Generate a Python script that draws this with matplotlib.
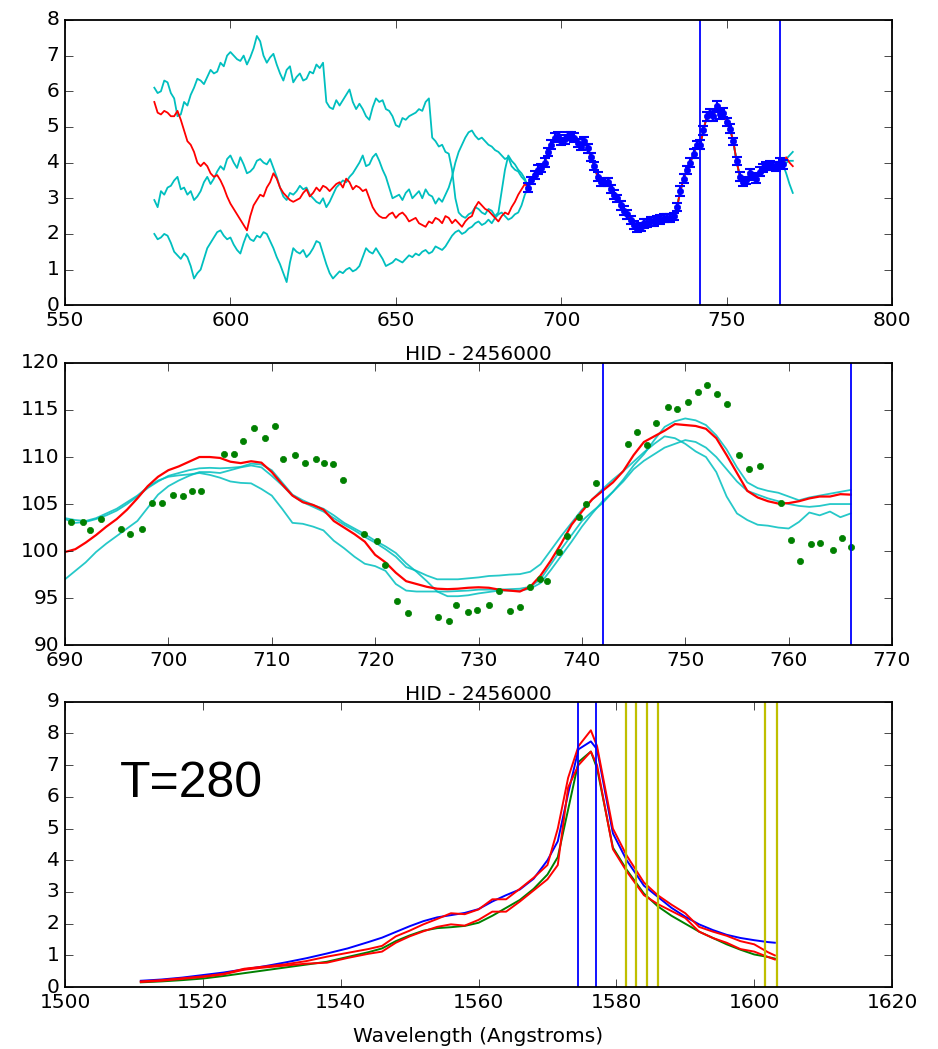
import matplotlib
matplotlib.use('Agg')
import matplotlib.pyplot as plt

# ---- top panel: light curve with model draws (daily values, HJD 577..689) ----
early_x = list(range(577, 690))
cyanA_early = [6.1, 5.95, 6.0, 6.3, 6.25, 5.95, 5.8, 5.3, 5.35, 5.7,
               5.6, 5.9, 6.1, 6.35, 6.3, 6.2, 6.4, 6.6, 6.5, 6.55,
               6.8, 6.7, 7.0, 7.1, 7.0, 6.9, 6.85, 7.0, 6.75, 6.95,
               7.2, 7.55, 7.4, 7.0, 6.8, 6.95, 7.05, 6.75, 6.5, 6.3,
               6.6, 6.7, 6.25, 6.4, 6.5, 6.3, 6.35, 6.55, 6.5, 6.75,
               6.65, 6.8, 5.7, 5.55, 5.5, 5.75, 5.6, 5.75, 5.9, 6.05,
               5.7, 5.5, 5.65, 5.5, 5.3, 5.2, 5.55, 5.8, 5.7, 5.75,
               5.5, 5.45, 5.3, 5.05, 5.0, 5.25, 5.2, 5.3, 5.35, 5.4,
               5.5, 5.45, 5.7, 5.8, 4.7, 4.6, 4.45, 4.5, 4.3, 4.25,
               3.8, 3.0, 2.6, 2.5, 2.45, 2.55, 2.6, 2.75, 2.7, 2.6,
               2.55, 2.7, 2.65, 2.5, 2.6, 3.2, 3.8, 4.2, 4.05, 3.95,
               3.8, 3.7, 3.55]
cyanB_early = [2.95, 2.75, 3.2, 3.1, 3.3, 3.35, 3.5, 3.6, 3.25, 3.3,
               3.1, 3.2, 2.95, 3.05, 3.2, 3.45, 3.6, 3.4, 3.55, 3.75,
               3.9, 3.8, 4.1, 4.2, 4.0, 3.85, 4.15, 3.95, 3.7, 3.75,
               3.85, 4.05, 4.1, 4.0, 3.95, 4.1, 3.85, 3.6, 3.3, 3.05,
               2.95, 3.15, 3.1, 3.2, 3.35, 3.25, 3.3, 3.1, 3.0, 2.9,
               2.85, 3.0, 2.75, 2.9, 3.1, 3.3, 3.4, 3.5, 3.45, 3.6,
               3.7, 3.85, 4.0, 4.2, 3.9, 3.95, 4.15, 4.25, 4.05, 3.8,
               3.6, 3.3, 3.0, 3.05, 3.1, 2.95, 3.15, 3.25, 3.0, 3.1,
               3.2, 3.0, 3.25, 3.1, 3.05, 2.85, 3.0, 2.9, 3.1, 3.3,
               3.6, 4.0, 4.3, 4.5, 4.7, 4.85, 4.9, 4.75, 4.65, 4.7,
               4.6, 4.5, 4.45, 4.35, 4.3, 4.2, 4.1, 4.15, 3.9, 3.8,
               3.75, 3.6, 3.5]
cyanC_early = [2.0, 1.85, 1.9, 2.0, 1.95, 1.75, 1.5, 1.4, 1.3, 1.45,
               1.35, 1.1, 0.75, 0.9, 1.0, 1.3, 1.6, 1.75, 1.9, 2.05,
               2.1, 1.95, 1.85, 1.9, 1.7, 1.55, 1.45, 1.75, 2.0, 1.85,
               1.8, 1.95, 1.9, 2.05, 2.0, 1.8, 1.6, 1.35, 1.15, 0.9,
               0.65, 1.2, 1.6, 1.5, 1.45, 1.55, 1.35, 1.45, 1.6, 1.8,
               1.75, 1.45, 1.15, 0.9, 0.75, 0.85, 0.95, 0.9, 1.0, 1.05,
               0.95, 1.0, 1.1, 1.35, 1.6, 1.5, 1.45, 1.6, 1.45, 1.3,
               1.1, 1.15, 1.2, 1.3, 1.25, 1.2, 1.3, 1.4, 1.35, 1.45,
               1.4, 1.5, 1.55, 1.45, 1.5, 1.65, 1.6, 1.55, 1.65, 1.8,
               1.95, 2.05, 2.1, 2.0, 2.05, 2.15, 2.2, 2.3, 2.35, 2.25,
               2.3, 2.4, 2.3, 2.45, 2.55, 2.6, 2.5, 2.4, 2.45, 2.55,
               2.6, 2.8, 3.1]
red_early = [5.7, 5.4, 5.35, 5.45, 5.4, 5.3, 5.3, 5.45, 5.2, 4.9,
             4.6, 4.5, 4.3, 4.0, 3.9, 4.0, 3.9, 3.7, 3.6, 3.65,
             3.5, 3.3, 3.05, 2.85, 2.7, 2.55, 2.4, 2.25, 2.1, 2.5,
             2.8, 2.95, 3.1, 3.05, 3.3, 3.45, 3.7, 3.55, 3.3, 3.15,
             3.05, 2.95, 2.9, 2.95, 3.0, 3.15, 3.25, 3.05, 3.15, 3.3,
             3.2, 3.35, 3.3, 3.2, 3.3, 3.4, 3.45, 3.3, 3.55, 3.45,
             3.25, 3.35, 3.3, 3.2, 3.25, 3.0, 2.75, 2.6, 2.5, 2.45,
             2.45, 2.55, 2.6, 2.45, 2.55, 2.6, 2.5, 2.35, 2.4, 2.45,
             2.3, 2.25, 2.2, 2.35, 2.3, 2.45, 2.4, 2.3, 2.5, 2.45,
             2.3, 2.4, 2.3, 2.2, 2.35, 2.45, 2.5, 2.75, 2.9, 2.8,
             2.7, 2.65, 2.55, 2.45, 2.35, 2.5, 2.6, 2.55, 2.75, 2.9,
             3.1, 3.25, 3.4]

data_x = list(range(690, 768))
data_y = [3.3, 3.5, 3.65, 3.8, 3.85, 4.0, 4.3, 4.5, 4.7, 4.75,
          4.6, 4.65, 4.75, 4.75, 4.7, 4.55, 4.45, 4.6, 4.4, 4.15,
          3.9, 3.6, 3.45, 3.45, 3.45, 3.25, 3.1, 3.0, 2.8, 2.65,
          2.55, 2.4, 2.25, 2.15, 2.2, 2.3, 2.3, 2.35, 2.35, 2.4,
          2.4, 2.45, 2.45, 2.45, 2.5, 2.75, 3.2, 3.55, 3.8, 4.0,
          4.25, 4.5, 4.5, 4.9, 5.3, 5.4, 5.3, 5.6, 5.35, 5.4,
          5.15, 4.95, 4.6, 4.05, 3.6, 3.45, 3.5, 3.7, 3.6, 3.55,
          3.75, 3.85, 3.9, 3.95, 3.9, 3.9, 4.0, 3.95]
data_err = [0.12, 0.1, 0.12, 0.13, 0.1, 0.12, 0.11, 0.12, 0.13, 0.12,
            0.1, 0.12, 0.12, 0.11, 0.13, 0.12, 0.1, 0.12, 0.12, 0.11,
            0.12, 0.13, 0.1, 0.12, 0.12, 0.11, 0.12, 0.1, 0.12, 0.13,
            0.12, 0.11, 0.12, 0.1, 0.12, 0.12, 0.11, 0.12, 0.13, 0.1,
            0.12, 0.11, 0.12, 0.12, 0.1, 0.12, 0.13, 0.12, 0.11, 0.12,
            0.12, 0.1, 0.12, 0.13, 0.12, 0.11, 0.12, 0.14, 0.12, 0.12,
            0.11, 0.12, 0.1, 0.12, 0.13, 0.12, 0.11, 0.12, 0.1, 0.12,
            0.12, 0.11, 0.12, 0.1, 0.12, 0.13, 0.12, 0.12]
tail_x = [768, 769, 770]
cyanA_tail = [4.1, 4.2, 4.3]
cyanB_tail = [3.7, 3.4, 3.15]
cyanC_tail = [4.0, 4.05, 4.05]
red_tail = [4.15, 4.0, 3.9]

window = [742, 766]

# ---- middle panel: zoom on fitted window ----
mid_x = list(range(690, 767))
mid_red = [99.9, 100.2, 100.9, 101.7, 102.6, 103.4, 104.4, 105.6, 106.9, 107.9,
           108.6, 109.0, 109.5, 110.0, 110.0, 109.9, 109.5, 109.35, 109.55, 109.4,
           108.4, 107.1, 105.9, 105.2, 104.9, 104.4, 103.2, 102.5, 101.8, 101.0,
           99.6, 98.8, 97.7, 96.8, 96.5, 96.2, 96.0, 95.95, 96.0, 96.1,
           96.15, 96.1, 95.9, 95.8, 95.7, 96.2, 97.4, 99.0, 100.8, 102.8,
           104.2, 105.5, 106.4, 107.3, 108.5, 110.2, 111.6, 112.2, 112.8, 113.5,
           113.4, 113.3, 113.0, 112.0, 110.2, 108.3, 106.4, 105.7, 105.3, 105.05,
           105.1, 105.3, 105.6, 105.8, 105.8, 106.05, 106.0]
mid_c1 = [97.0, 97.9, 98.8, 99.9, 100.8, 101.6, 102.4, 103.2, 104.6, 106.0,
          106.9, 107.5, 108.0, 108.4, 108.4, 108.3, 108.6, 108.9, 109.1, 108.9,
          108.0, 107.0, 105.9, 105.2, 104.7, 104.2, 103.5, 102.8, 102.2, 101.5,
          100.9, 100.2, 99.4, 98.3, 97.9, 97.4, 97.0, 97.0, 97.0, 97.1,
          97.2, 97.35, 97.4, 97.5, 97.55, 97.8, 98.6, 100.1, 101.6, 103.0,
          104.4, 105.5, 106.6, 107.6, 108.5, 109.5, 110.5, 111.4, 112.2, 112.0,
          111.4, 110.6, 110.0, 108.4, 105.8, 104.0, 103.3, 102.8, 102.7, 102.5,
          102.4, 103.1, 104.1, 103.8, 104.2, 103.6, 104.0]
mid_c2 = [103.5, 103.3, 103.2, 103.5, 104.0, 104.5, 105.2, 105.9, 106.8, 107.5,
          107.9, 108.05, 108.15, 108.3, 108.1, 107.8, 107.4, 107.25, 107.2, 106.6,
          105.9, 104.5, 103.0, 102.9, 102.6, 102.2, 101.1, 100.3, 99.4, 98.65,
          98.4, 97.9, 96.5, 95.8, 95.7, 95.7, 95.7, 95.7, 95.75, 95.8,
          95.9, 95.9, 95.9, 95.95, 96.0, 96.2, 97.0, 98.6, 100.2, 101.7,
          103.2, 104.2, 105.1, 106.3, 107.6, 109.1, 110.3, 111.8, 113.2, 113.8,
          114.1, 113.9, 113.4, 112.3, 110.8, 108.9, 107.3, 106.7, 106.4, 106.2,
          105.8, 105.4, 105.7, 105.9, 106.1, 106.3, 106.5]
mid_c3 = [103.4, 103.0, 103.1, 103.4, 103.8, 104.3, 105.0, 105.8, 106.7, 107.4,
          108.0, 108.3, 108.6, 108.8, 108.85, 108.8, 108.85, 108.95, 109.3, 109.2,
          108.6, 107.3, 106.0, 105.4, 104.9, 104.5, 103.8, 103.0, 102.4, 101.8,
          101.1, 100.5, 99.8, 98.7, 97.8, 96.8, 95.7, 95.2, 95.2, 95.3,
          95.5, 95.65, 95.8, 95.8, 95.8, 96.0, 96.6, 98.0, 99.5, 101.0,
          102.6, 104.0, 105.3, 106.3, 107.4, 108.7, 109.6, 110.3, 111.0, 111.4,
          111.8, 111.6, 111.0, 110.0, 108.7, 107.4, 106.4, 106.0, 105.6, 105.3,
          105.0, 104.8, 104.7, 104.8, 105.0, 105.0, 105.0]
pts_x = [690.6, 691.7, 692.4, 693.5, 695.4, 696.3, 697.4, 698.4, 699.4, 700.4, 701.4, 702.3,
         703.2, 705.4, 706.3, 707.2, 708.3, 709.3, 710.3, 711.1, 712.2, 713.2, 714.3, 715.1,
         715.9, 716.9, 718.9, 720.2, 721.0, 722.1, 723.2, 726.1, 727.1, 727.8, 729.0, 729.9,
         731.0, 732.0, 733.0, 734.0, 735.0, 735.9, 736.6, 737.8, 738.6, 739.7, 740.4, 741.4,
         744.5, 745.3, 746.3, 747.2, 748.3, 749.2, 750.3, 751.2, 752.1, 753.1, 754.0, 755.2,
         756.2, 757.2, 759.3, 760.2, 761.1, 762.2, 763.0, 764.3, 765.2, 766.0]
pts_y = [103.1, 103.1, 102.2, 103.4, 102.4, 101.8, 102.3, 105.1, 105.1, 106.0, 105.9, 106.4,
         106.4, 110.35, 110.35, 111.7, 113.05, 112.0, 113.3, 109.8, 110.2, 109.4, 109.8, 109.4,
         109.3, 107.6, 101.8, 101.1, 98.5, 94.7, 93.4, 93.0, 92.6, 94.3, 93.5, 93.7,
         94.3, 95.8, 93.6, 94.1, 96.2, 97.0, 96.8, 99.9, 101.6, 103.6, 105.0, 107.2,
         111.4, 112.7, 111.3, 113.6, 115.3, 115.1, 115.8, 116.9, 117.7, 116.7, 115.6, 110.2,
         108.7, 109.0, 105.1, 101.2, 98.9, 100.7, 100.9, 100.1, 101.4, 100.4]

# ---- bottom panel: line profile ----
wave = [1511, 1514, 1517, 1520, 1523, 1526, 1529, 1532, 1535, 1538, 1541, 1544, 1546, 1548,
        1550, 1552, 1554, 1556, 1558, 1560, 1562, 1564, 1566, 1568, 1570, 1571.5, 1573, 1574.5,
        1576.3, 1577.2, 1579.5, 1581.5, 1584, 1586, 1588, 1590, 1592, 1594, 1596, 1598, 1600,
        1602, 1603]
flux_blue = [0.2, 0.24, 0.3, 0.38, 0.46, 0.56, 0.66, 0.78, 0.91, 1.06, 1.22, 1.42, 1.56, 1.74,
             1.92, 2.08, 2.2, 2.27, 2.34, 2.46, 2.7, 2.9, 3.08, 3.42, 4.0, 4.6, 6.1, 7.5,
             7.75, 7.5, 4.85, 4.0, 3.2, 2.85, 2.5, 2.22, 1.98, 1.8, 1.65, 1.55, 1.48,
             1.42, 1.4]
flux_green = [0.15, 0.18, 0.22, 0.27, 0.35, 0.44, 0.53, 0.62, 0.71, 0.8, 0.95, 1.1, 1.22, 1.45,
              1.63, 1.78, 1.86, 1.89, 1.93, 2.03, 2.25, 2.5, 2.75, 3.1, 3.55, 4.1, 5.6, 7.1,
              7.43, 6.9, 4.4, 3.7, 2.95, 2.55, 2.25, 2.0, 1.75, 1.55, 1.35, 1.18, 1.03,
              0.95, 0.9]
flux_red1 = [0.18, 0.22, 0.28, 0.34, 0.42, 0.58, 0.65, 0.72, 0.82, 0.96, 1.08, 1.2, 1.3, 1.6,
             1.78, 1.98, 2.15, 2.33, 2.3, 2.45, 2.77, 2.77, 3.1, 3.45, 3.85, 5.0, 6.6, 7.6,
             8.1, 7.6, 5.0, 4.15, 3.3, 2.9, 2.6, 2.33, 1.9, 1.75, 1.62, 1.45, 1.35,
             1.1, 1.0]
flux_red2 = [0.16, 0.2, 0.26, 0.32, 0.4, 0.55, 0.62, 0.68, 0.74, 0.77, 0.92, 1.05, 1.12, 1.4,
             1.6, 1.76, 1.9, 1.98, 1.94, 2.12, 2.38, 2.38, 2.7, 3.05, 3.4, 3.85, 6.3, 7.0,
             7.43, 7.0, 4.35, 3.65, 2.9, 2.62, 2.4, 2.18, 1.75, 1.55, 1.4, 1.2, 1.12,
             0.95, 0.87]
blue_lines = [1574.5, 1577.0]
yellow_lines = [1581.35, 1582.85, 1584.5, 1586.0, 1601.6, 1603.3]

plt.style.use('classic')
plt.rcParams['figure.facecolor'] = 'white'
plt.rcParams['savefig.facecolor'] = 'white'
plt.rcParams['font.size'] = 14.5
plt.rcParams['axes.linewidth'] = 1.3
plt.rcParams['xtick.major.size'] = 6
plt.rcParams['ytick.major.size'] = 6

fig = plt.figure(figsize=(9.38, 10.49), dpi=100)
ax1 = fig.add_axes([0.0693, 0.709, 0.8817, 0.272])
ax2 = fig.add_axes([0.0693, 0.385, 0.8817, 0.269])
ax3 = fig.add_axes([0.0693, 0.059, 0.8817, 0.272])

# top: model draws + data
for early, tail in [(cyanA_early, cyanA_tail), (cyanB_early, cyanB_tail), (cyanC_early, cyanC_tail)]:
    ax1.plot(early_x + data_x + tail_x, early + data_y + tail, color='c', lw=1.3)
ax1.plot(early_x + data_x + tail_x, red_early + data_y + red_tail, color='r', lw=1.3)
ax1.errorbar(data_x, data_y, yerr=data_err, fmt='o', color='b', mec='b', ms=4.5,
             capsize=3.5, elinewidth=1.5, capthick=1.5)
for w in window:
    ax1.axvline(w, color='b', lw=1.3)
ax1.set_xlim(550, 800)
ax1.set_ylim(0, 8)
ax1.set_xlabel("HID - 2456000", labelpad=11)

# middle: zoom with points
for c in [mid_c1, mid_c2, mid_c3]:
    ax2.plot(mid_x, c, color='c', lw=1.3, alpha=0.85)
ax2.plot(mid_x, mid_red, color='r', lw=1.6)
ax2.plot(pts_x, pts_y, 'o', color='g', mec='g', ms=4.5)
for w in window:
    ax2.axvline(w, color='b', lw=1.3)
ax2.set_xlim(690, 770)
ax2.set_ylim(90, 120)
ax2.set_xlabel("HID - 2456000", labelpad=11)

# bottom: spectrum
ax3.plot(wave, flux_blue, color='b', lw=1.4)
ax3.plot(wave, flux_green, color='g', lw=1.4)
ax3.plot(wave, flux_red1, color='r', lw=1.4)
ax3.plot(wave, flux_red2, color='r', lw=1.4)
for w in blue_lines:
    ax3.axvline(w, color='b', lw=1.3)
for w in yellow_lines:
    ax3.axvline(w, color='y', lw=1.6)
ax3.text(1508, 6.0, "T=280", fontsize=36, family='Liberation Sans')
ax3.set_xlim(1500, 1620)
ax3.set_ylim(0, 9)
ax3.set_xlabel("Wavelength (Angstroms)", labelpad=11)

fig.savefig("out.png", dpi=100)
